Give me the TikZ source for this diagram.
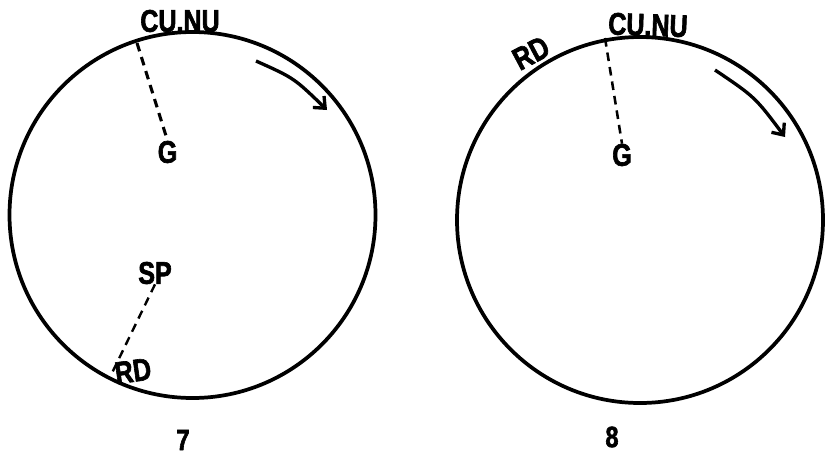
\documentclass[tikz,border=0pt]{standalone}
\usepackage{fontspec}
\newfontfamily\labfont[FakeStretch=0.8, FakeBold=2]{Liberation Sans Bold}
\usetikzlibrary{arrows.meta}
\begin{document}
\begin{tikzpicture}[x=0.75pt,y=-0.75pt,
  ring/.style={line width=2.8pt},
  lab/.style={font=\labfont\fontsize{23.5}{23.5}\selectfont, inner sep=0pt},
  num/.style={font=\labfont\fontsize{22}{22}\selectfont, inner sep=0pt},
  dashline/.style={line width=2.3pt, dash pattern=on 6.5pt off 4.5pt},
  turn/.style={line width=2.5pt, -{Straight Barb[length=7pt,width=12pt,line width=2.5pt]}}]
\useasboundingbox (0,0) rectangle (827,455);
% left diagram (7)
\coordinate (c7) at (192.5,215);
\draw[ring] (c7) circle[radius=183];
\node[lab] (cu7) at (180,21) {CU.NU};
\node[lab] (g7) at (167.5,152) {G};
\node[lab] (sp7) at (155,273) {SP};
\node[lab, rotate=8] (rd7) at (133,371) {RD};
\node[num] (n7) at (183,440) {7};
\coordinate (a7) at (137,43);
\coordinate (b7) at (112,373);
\coordinate (s7) at (256,61);
\coordinate (e7) at (327,110);
\draw[dashline] (a7) -- (g7.north);
\draw[dashline, line width=1.8pt] (sp7.south) -- (b7);
\draw[turn] (s7) .. controls (294,78) .. (e7);
% right diagram (8)
\coordinate (c8) at (640,220);
\draw[ring] (c8) circle[radius=183];
\node[lab, rotate=-2] (cu8) at (648,25) {CU.NU};
\node[lab, rotate=28] (rd8) at (531,53) {RD};
\node[lab] (g8) at (622,155) {G};
\node[num] (n8) at (612,437) {8};
\coordinate (a8) at (605,38);
\coordinate (s8) at (715,70);
\coordinate (e8) at (785,137);
\draw[dashline, line width=1.9pt] (a8) -- (g8.north);
\draw[turn] (s8) .. controls (755,97) .. (e8);
\end{tikzpicture}
\end{document}
